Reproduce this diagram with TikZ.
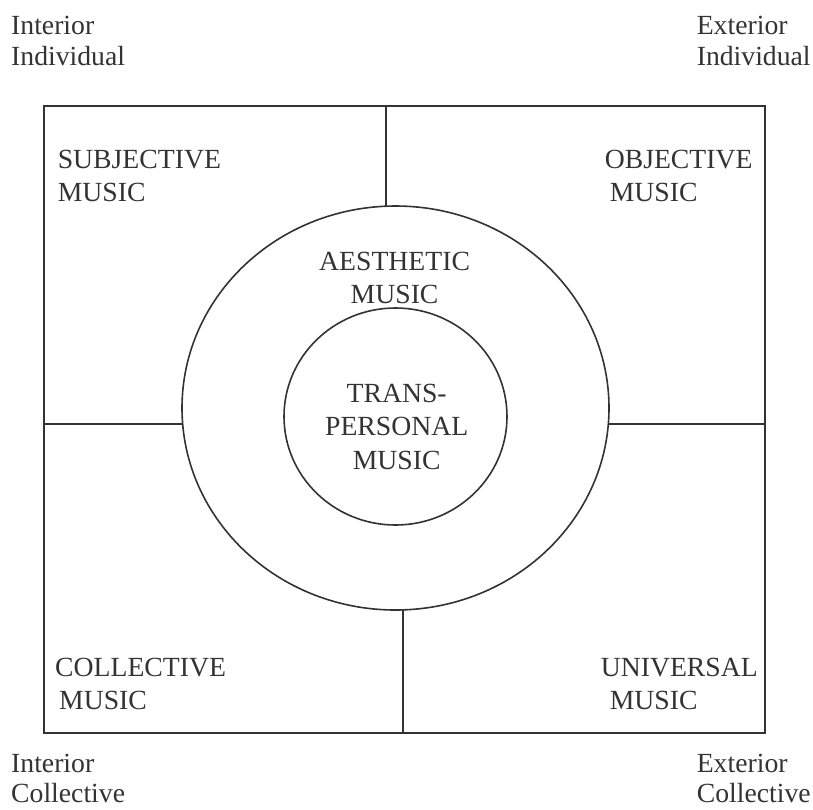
\documentclass[tikz,border=0pt]{standalone}
\usepackage{fontspec}
\setmainfont{Liberation Serif}
\usetikzlibrary{shapes.geometric}
\tikzset{
  lbl/.style={anchor=north west, inner sep=0pt, align=left,
    font=\fontsize{27.7}{33.5}\selectfont},
  mid/.style={lbl, anchor=north, align=center},
  side/.style={lbl, font=\fontsize{27.7}{30.5}\selectfont},
  ring/.style={ellipse, draw, inner sep=0pt, outer sep=0pt},
}
\begin{document}
\begin{tikzpicture}[x=1pt, y=-1pt, line width=1.6pt, color=black!80]
  \useasboundingbox (0,0) rectangle (813,809);
  % frame and the points where the dividers meet it
  \coordinate (nw) at (44,106);
  \coordinate (se) at (765,733);
  \coordinate (top) at (386,106);
  \coordinate (bot) at (403,733);
  \coordinate (lft) at (44,424);
  \coordinate (rgt) at (765,424);
  \draw (nw) rectangle (se);
  \node[ring, minimum width=427pt, minimum height=404pt] (outer) at (395.5,408) {};
  \node[ring, minimum width=223pt, minimum height=217pt] (inner) at (395.5,416.5) {};
  \draw (top) -- (top |- outer.north);
  \draw (bot) -- (bot |- outer.south);
  \draw (lft) -- (outer.west |- lft);
  \draw (rgt) -- (outer.east |- rgt);
  % quadrant labels
  \node[lbl] (subj) at (57,149.3) {SUBJECTIVE\\MUSIC};
  \node[lbl] (obj) at (604,149.3) {OBJECTIVE\\\hspace*{5pt}MUSIC};
  \node[lbl] (coll) at (54.4,657) {COLLECTIVE\\\hspace*{4pt}MUSIC};
  \node[lbl] (univ) at (600,657) {UNIVERSAL\\\hspace*{9pt}MUSIC};
  \node[mid] (aes) at (394.6,251) {AESTHETIC\\MUSIC};
  \node[mid] (trans) at (396.7,383) {TRANS-\\PERSONAL\\MUSIC};
  % corner labels
  \node[side] (ii) at (10.4,15.5) {Interior\\Individual};
  \node[side] (ei) at (696,15.5) {Exterior\\Individual};
  \node[side] (ic) at (10.4,753) {Interior\\Collective};
  \node[side] (ec) at (696,753) {Exterior\\Collective};
\end{tikzpicture}
\end{document}
